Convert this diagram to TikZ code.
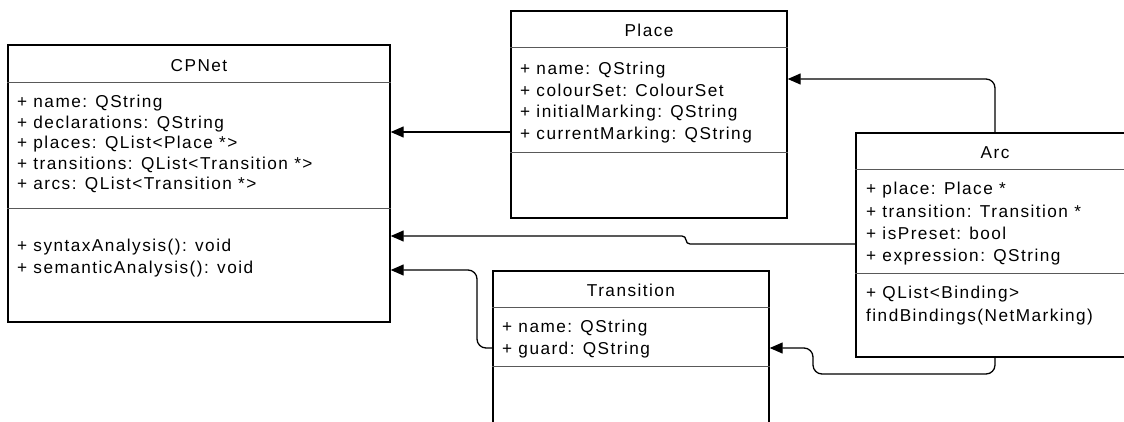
\documentclass[tikz,border=0pt]{standalone}
\usepackage{fontspec}
\setmainfont{Liberation Sans}[LetterSpace=8.5]
\usetikzlibrary{arrows.meta}

\begin{document}
\begin{tikzpicture}[x=1pt, y=-1pt]
      \useasboundingbox (0,0) rectangle (1124,421);
      \clip (0,0) rectangle (1124,421);
      \tikzstyle{every node}=[inner sep=0pt, font=\fontsize{17.2}{20.6}\selectfont]
      \tikzstyle{classbox}=[draw, line width=1.4pt, fill=white]
      \tikzstyle{sep}=[draw=black!65, line width=1pt]
      \tikzstyle{assoc}=[-{Triangle[length=13pt, width=11pt]}, line width=1.3pt, rounded corners=9pt]

      % class boxes
      \path (199, 183.5) node[classbox, minimum width=382, minimum height=277] (cpnet) {};
      \path (649, 114.5) node[classbox, minimum width=276, minimum height=207] (place) {};
      \path (631, 356) node[classbox, minimum width=276, minimum height=170] (trans) {};
      \path (995, 245) node[classbox, minimum width=278, minimum height=224] (arc) {};

      % titles
      \path (199, 71.5) node[anchor=base] (cpnet-t) {CPNet};
      \path (649, 36.5) node[anchor=base] (place-t) {Place};
      \path (631, 296) node[anchor=base] (trans-t) {Transition};
      \path (995, 158.5) node[anchor=base] (arc-t) {Arc};

      % compartments
      \foreach \y in {82, 208}
        \draw[sep] (cpnet.west |- 0,\y) -- (cpnet.east |- 0,\y);
      \foreach \y in {47, 152}
        \draw[sep] (place.west |- 0,\y) -- (place.east |- 0,\y);
      \foreach \y in {307, 366}
        \draw[sep] (trans.west |- 0,\y) -- (trans.east |- 0,\y);
      \foreach \y in {169, 273}
        \draw[sep] (arc.west |- 0,\y) -- (arc.east |- 0,\y);

      % attributes and operations
      \foreach \t [count=\i] in {+ name: QString, + declarations: QString,
          + places: QList<Place *>, + transitions: QList<Transition *>,
          + arcs: QList<Transition *>}
      {
        \path (17, 87 + \i*20.5) node[anchor=base west] (cpnet-a\i) {\t};
      }
      \foreach \t [count=\i] in {+ syntaxAnalysis(): void, + semanticAnalysis(): void}
      {
        \path (17, 230 + \i*21.5) node[anchor=base west] (cpnet-m\i) {\t};
      }
      \foreach \t [count=\i] in {+ name: QString, + colourSet: ColourSet,
          + initialMarking: QString, + currentMarking: QString}
      {
        \path (520, 52.6 + \i*21.7) node[anchor=base west] (place-a\i) {\t};
      }
      \foreach \t [count=\i] in {+ name: QString, + guard: QString}
      {
        \path (502, 311 + \i*21.7) node[anchor=base west] (trans-a\i) {\t};
      }
      \foreach \t [count=\i] in {+ place: Place *, + transition: Transition *,
          + isPreset: bool, + expression: QString}
      {
        \path (866, 172.6 + \i*22.2) node[anchor=base west] (arc-a\i) {\t};
      }
      \foreach \t [count=\i] in {+ QList<Binding>, findBindings(NetMarking)}
      {
        \path (866, 276 + \i*22.5) node[anchor=base west] (arc-m\i) {\t};
      }

      % associations
      \draw[assoc] (place.west |- 0,132) -- (cpnet.east |- 0,132);
      \draw[assoc] (arc.north) -- (995,79) -- (place.east |- 0,79);
      \draw[assoc, rounded corners=4pt]
        (arc.west |- 0,244) -- (686,244) -- (686,236) -- (cpnet.east |- 0,236);
      \draw[assoc]
        (trans.west |- 0,348) -- (477,348) -- (477,270) -- (cpnet.east |- 0,270);
      \draw[assoc]
        (arc.south) -- (995,374) -- (813,374) -- (813,348) -- (trans.east |- 0,348);
    \end{tikzpicture}
\end{document}
